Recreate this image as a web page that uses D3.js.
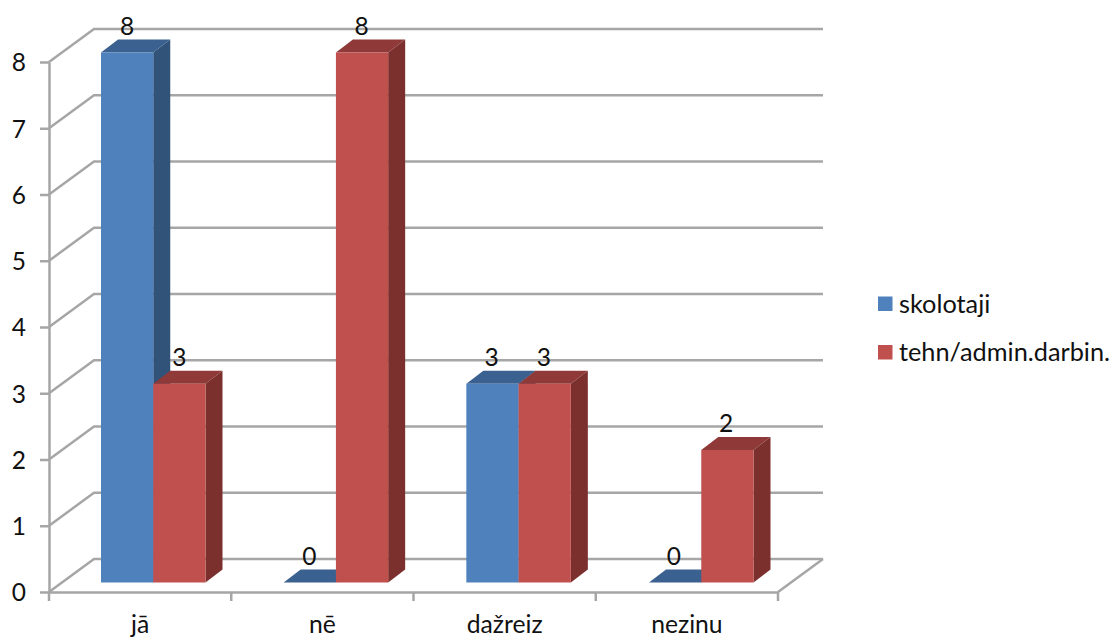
<!DOCTYPE html>
<html>
<head>
<meta charset="utf-8">
<script src="https://cdnjs.cloudflare.com/ajax/libs/d3/7.8.5/d3.min.js"></script>
<style>
  html, body { margin: 0; padding: 0; background: #fff; }
  text { font-family: Lato, "Open Sans", sans-serif; fill: #111; }
</style>
</head>
<body>
<svg id="chart" width="1113" height="639"></svg>
<script>
const categories = ["jā", "nē", "dažreiz", "nezinu"];
const seriesNames = ["skolotaji", "tehn/admin.darbin."];
const skolotaji = [8, 0, 3, 0];
const tehnAdmin = [3, 8, 3, 2];
const valueTicks = [0, 1, 2, 3, 4, 5, 6, 7, 8];

const frontColors = ["#4f81bd", "#c0504d"];
const sideColors = ["#315279", "#7b302e"];
const topColors = ["#3b6190", "#8f3a38"];
const gridColor = "#a6a6a6";

const svg = d3.select("#chart");

// Plot box of the front wall, plus the offset that pushes the back wall away
const plotLeft = 49, plotRight = 778, plotBottom = 592, plotTop = 62;
const wallDx = 45, wallDy = 33;
const barDx = 17, barDy = 13;
const barGapToFloor = 9.5;
const strokeW = 2.5;

const y = d3.scaleLinear().domain([0, 8]).range([plotBottom, plotTop]);
const x = d3.scaleBand().domain(categories).range([plotLeft, plotRight]);
// Columns stand on the floor, set slightly deeper than the axis, so they get their own scale
const group = d3.scaleBand().domain(categories).range([101, 101 + 4 * 182.67]);
const bar = d3.scaleBand().domain(seriesNames).range([0, 104.5]);

const line = d3.line();

// Back wall gridlines, each running in from the axis along the side wall
svg.append("g").selectAll("path").data(valueTicks).join("path")
  .attr("d", v => line([
    [plotLeft, y(v)],
    [plotLeft + wallDx, y(v) - wallDy],
    [plotRight + wallDx, y(v) - wallDy]
  ]))
  .attr("fill", "none")
  .attr("stroke", gridColor)
  .attr("stroke-width", strokeW);

// Right edge of the floor
svg.append("path")
  .attr("d", line([
    [plotRight, plotBottom],
    [plotRight + wallDx, plotBottom - wallDy]
  ]))
  .attr("fill", "none")
  .attr("stroke", gridColor)
  .attr("stroke-width", strokeW);

// Axes
const yAxis = svg.append("g")
  .attr("transform", `translate(${plotLeft},0)`)
  .call(d3.axisLeft(y).tickValues(valueTicks).tickSize(9).tickPadding(14).tickSizeOuter(0));
yAxis.selectAll("path, line").attr("stroke", gridColor).attr("stroke-width", strokeW);
yAxis.selectAll("text")
  .attr("font-family", null)
  .style("font-size", "24.5px")
  .style("fill", "#111")
  .attr("dy", "0.36em");

const xAxis = svg.append("g")
  .attr("transform", `translate(0,${plotBottom})`)
  .call(d3.axisBottom(x).tickSize(9).tickPadding(14).tickSizeOuter(0));
xAxis.select("path").attr("stroke", gridColor).attr("stroke-width", strokeW);
xAxis.selectAll(".tick line").remove();
xAxis.selectAll("text")
  .attr("font-family", null)
  .style("font-size", "24.7px")
  .style("fill", "#111");

// Category separators on the axis
svg.append("g").selectAll("line")
  .data(categories.map(c => x(c)).concat(plotRight))
  .join("line")
  .attr("x1", d => d).attr("x2", d => d)
  .attr("y1", plotBottom).attr("y2", plotBottom + 9)
  .attr("stroke", gridColor).attr("stroke-width", strokeW);

// 3D columns: top and side faces sit behind the front face
const rows = categories.flatMap((c, i) => [
  { category: c, series: 0, value: skolotaji[i] },
  { category: c, series: 1, value: tehnAdmin[i] }
]);

const barBase = y(0) - barGapToFloor;
const barTop = v => y(v) - barGapToFloor;
const barLeft = d => group(d.category) + bar(seriesNames[d.series]);
const barWidth = bar.bandwidth();

const columns = svg.append("g").selectAll("g").data(rows).join("g");

columns.append("path")
  .attr("d", d => {
    const l = barLeft(d), r = l + barWidth, t = barTop(d.value);
    return line([[l, t], [l + barDx, t - barDy], [r + barDx, t - barDy], [r, t]]) + "Z";
  })
  .attr("fill", d => topColors[d.series]);

columns.append("path")
  .attr("d", d => {
    const r = barLeft(d) + barWidth, t = barTop(d.value);
    return line([[r, t], [r + barDx, t - barDy], [r + barDx, barBase - barDy], [r, barBase]]) + "Z";
  })
  .attr("fill", d => sideColors[d.series]);

columns.append("rect")
  .attr("x", barLeft)
  .attr("y", d => barTop(d.value))
  .attr("width", barWidth)
  .attr("height", d => barBase - barTop(d.value))
  .attr("fill", d => frontColors[d.series]);

// Value labels above each column, placed along the axis-based category bands
svg.append("g").selectAll("text").data(rows).join("text")
  .attr("x", d => x(d.category) + bar(seriesNames[d.series]) + 52 + barWidth / 2)
  .attr("y", d => barTop(d.value) - 18)
  .attr("text-anchor", "middle")
  .style("font-size", "24.5px")
  .text(d => d.value);

// Legend
const legend = svg.append("g").selectAll("g").data(seriesNames).join("g")
  .attr("transform", (d, i) => `translate(878,${296.5 + i * 48.5})`);
legend.append("rect")
  .attr("width", 14.5).attr("height", 14.5)
  .attr("fill", (d, i) => frontColors[i]);
legend.append("text")
  .attr("x", 21).attr("y", 16)
  .style("font-size", "25.3px")
  .text(d => d);
</script>
</body>
</html>
